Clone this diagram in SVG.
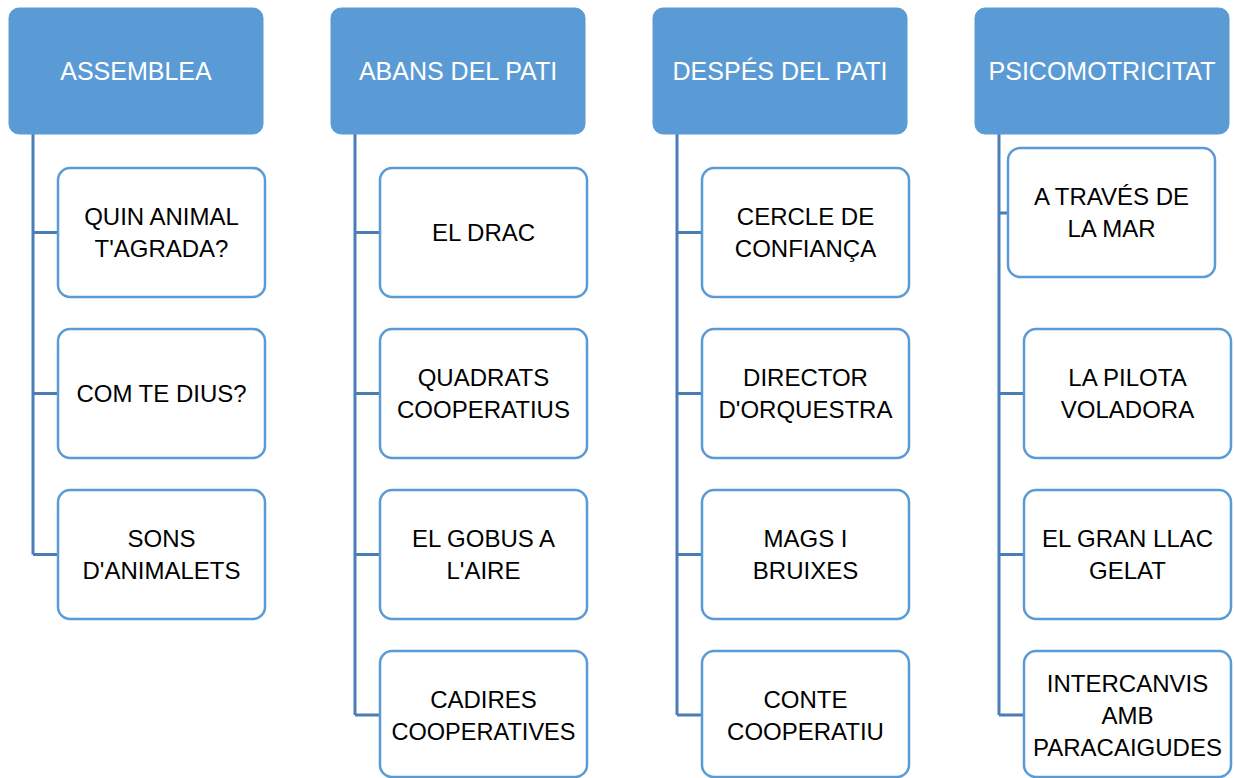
<svg xmlns="http://www.w3.org/2000/svg" width="1234" height="778" viewBox="0 0 1234 778">
<style>
.hdr{fill:#5b9bd5;stroke:#5b9bd5;stroke-width:1}
.ht{font-family:"Liberation Sans",Arial,sans-serif;font-size:25px;fill:#ffffff;text-anchor:middle}
.box{fill:#ffffff;stroke:#5b9bd5;stroke-width:2.5}
.bt{font-family:"Liberation Sans",Arial,sans-serif;font-size:24px;fill:#000000;text-anchor:middle}
.con{fill:none;stroke:#4a7db5;stroke-width:3}
</style>
<rect width="1234" height="778" fill="#ffffff"/>
<g id="connectors">
<path class="con" d="M33,134 V554.5 M33,232.5 H58 M33,393.5 H58 M33,554.5 H58"/>
<path class="con" d="M355,134 V715 M355,232.5 H380 M355,393.5 H380 M355,554.5 H380 M355,715 H380"/>
<path class="con" d="M677,134 V715 M677,232.5 H702 M677,393.5 H702 M677,554.5 H702 M677,715 H702"/>
<path class="con" d="M999,134 V715 M999,213 H1008 M999,393.5 H1024 M999,554.5 H1024 M999,715 H1024"/>
</g>
<g id="h1"><rect class="hdr" x="9" y="8" width="254" height="126" rx="10"/><text class="ht" x="136" y="80">ASSEMBLEA</text></g>
<g id="h2"><rect class="hdr" x="331" y="8" width="254" height="126" rx="10"/><text class="ht" x="458" y="80">ABANS DEL PATI</text></g>
<g id="h3"><rect class="hdr" x="653" y="8" width="254" height="126" rx="10"/><text class="ht" x="780" y="80">DESPÉS DEL PATI</text></g>
<g id="h4"><rect class="hdr" x="975" y="8" width="254" height="126" rx="10"/><text class="ht" x="1102" y="80">PSICOMOTRICITAT</text></g>

<g id="c1a"><rect class="box" x="58" y="168" width="207" height="129" rx="12"/><text class="bt" x="161.5" y="225">QUIN ANIMAL</text><text class="bt" x="161.5" y="257">T'AGRADA?</text></g>
<g id="c1b"><rect class="box" x="58" y="329" width="207" height="129" rx="12"/><text class="bt" x="161.5" y="402">COM TE DIUS?</text></g>
<g id="c1c"><rect class="box" x="58" y="490" width="207" height="129" rx="12"/><text class="bt" x="161.5" y="547">SONS</text><text class="bt" x="161.5" y="579">D'ANIMALETS</text></g>

<g id="c2a"><rect class="box" x="380" y="168" width="207" height="129" rx="12"/><text class="bt" x="483.5" y="241">EL DRAC</text></g>
<g id="c2b"><rect class="box" x="380" y="329" width="207" height="129" rx="12"/><text class="bt" x="483.5" y="386">QUADRATS</text><text class="bt" x="483.5" y="418">COOPERATIUS</text></g>
<g id="c2c"><rect class="box" x="380" y="490" width="207" height="129" rx="12"/><text class="bt" x="483.5" y="547">EL GOBUS A</text><text class="bt" x="483.5" y="579">L'AIRE</text></g>
<g id="c2d"><rect class="box" x="380" y="651" width="207" height="126" rx="12"/><text class="bt" x="483.5" y="708">CADIRES</text><text class="bt" x="483.5" y="740" textLength="184" lengthAdjust="spacingAndGlyphs">COOPERATIVES</text></g>

<g id="c3a"><rect class="box" x="702" y="168" width="207" height="129" rx="12"/><text class="bt" x="805.5" y="225">CERCLE DE</text><text class="bt" x="805.5" y="257">CONFIANÇA</text></g>
<g id="c3b"><rect class="box" x="702" y="329" width="207" height="129" rx="12"/><text class="bt" x="805.5" y="386">DIRECTOR</text><text class="bt" x="805.5" y="418">D'ORQUESTRA</text></g>
<g id="c3c"><rect class="box" x="702" y="490" width="207" height="129" rx="12"/><text class="bt" x="805.5" y="547">MAGS I</text><text class="bt" x="805.5" y="579">BRUIXES</text></g>
<g id="c3d"><rect class="box" x="702" y="651" width="207" height="126" rx="12"/><text class="bt" x="805.5" y="708">CONTE</text><text class="bt" x="805.5" y="740">COOPERATIU</text></g>

<g id="c4a"><rect class="box" x="1008" y="148" width="207" height="129" rx="12"/><text class="bt" x="1111.5" y="205">A TRAVÉS DE</text><text class="bt" x="1111.5" y="237">LA MAR</text></g>
<g id="c4b"><rect class="box" x="1024" y="329" width="207" height="129" rx="12"/><text class="bt" x="1127.5" y="386">LA PILOTA</text><text class="bt" x="1127.5" y="418">VOLADORA</text></g>
<g id="c4c"><rect class="box" x="1024" y="490" width="207" height="129" rx="12"/><text class="bt" x="1127.5" y="547">EL GRAN LLAC</text><text class="bt" x="1127.5" y="579">GELAT</text></g>
<g id="c4d"><rect class="box" x="1024" y="651" width="207" height="126" rx="12"/><text class="bt" x="1127.5" y="692">INTERCANVIS</text><text class="bt" x="1127.5" y="724">AMB</text><text class="bt" x="1127.5" y="756">PARACAIGUDES</text></g>
</svg>
